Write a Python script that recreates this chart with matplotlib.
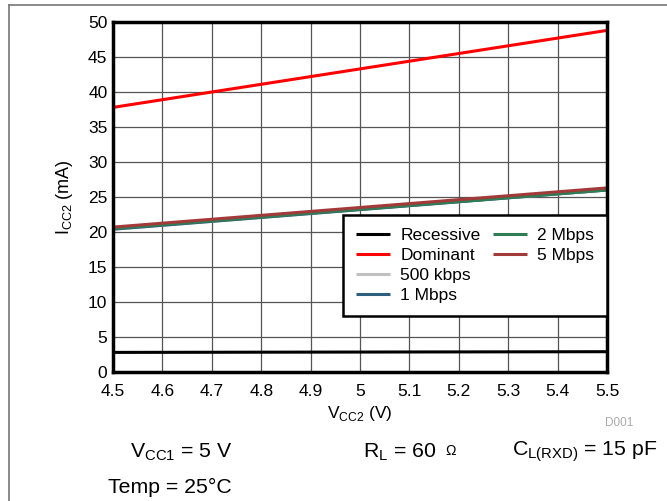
import numpy as np
import matplotlib
matplotlib.use('Agg')
import matplotlib.pyplot as plt
from matplotlib.lines import Line2D

plt.rcParams['font.family'] = ['Liberation Sans', 'DejaVu Sans']
plt.rcParams['mathtext.fontset'] = 'custom'
plt.rcParams['mathtext.rm'] = 'Liberation Sans'

# Data
vcc2 = [4.5, 5.5]
recessive = [2.8, 2.9]
dominant = [37.8, 48.8]
kbps_500 = [20.4, 26.0]
mbps_1 = [20.4, 26.0]
mbps_2 = [20.5, 26.0]
mbps_5 = [20.7, 26.3]

series = [
    ('Recessive', recessive, 'black'),
    ('Dominant', dominant, '#ff0000'),
    ('500 kbps', kbps_500, '#c0c0c0'),
    ('1 Mbps', mbps_1, '#2f5f7f'),
    ('2 Mbps', mbps_2, '#2e7d55'),
    ('5 Mbps', mbps_5, '#a33a3a'),
]

fig = plt.figure(figsize=(6.67, 5.01), dpi=100)
ax = fig.add_axes([113/667, 1 - 372/501, 494/667, 350/501])

for label, vals, col in series:
    ax.plot(vcc2, vals, color=col, lw=2.2, label=label, solid_capstyle='butt')

ax.set_xlim(4.5, 5.5)
ax.set_ylim(0, 50)
ax.set_xticks(np.arange(4.5, 5.51, 0.1))
ax.set_xticklabels(['4.5', '4.6', '4.7', '4.8', '4.9', '5', '5.1', '5.2', '5.3', '5.4', '5.5'])
ax.set_yticks(np.arange(0, 51, 5))
ax.tick_params(length=0, labelsize=12.5)
ax.tick_params(axis='x', pad=8.5)
ax.tick_params(axis='y', pad=4)
ax.grid(True, color='#555555', lw=0.9)
ax.set_axisbelow(True)
for s in ax.spines.values():
    s.set_linewidth(2.5)
    s.set_color('black')

ax.set_xlabel(r'V$_{\mathregular{CC2}}$ (V)', fontsize=12.5, labelpad=3.5)
ax.set_ylabel(r'I$_{\mathregular{CC2}}$ (mA)', fontsize=13, labelpad=9)

# pad the legend so the first column holds four entries, as in the reference
handles, labels = ax.get_legend_handles_labels()
blank = Line2D([], [], color='none')
handles = handles + [blank, blank]
labels = labels + ['', '']
leg = ax.legend(handles, labels, ncol=2, loc='upper right',
                bbox_to_anchor=(1.0, 0.449), borderaxespad=0,
                fontsize=12.5, fancybox=False, framealpha=1,
                edgecolor='black', handlelength=1.95, handletextpad=0.6,
                columnspacing=0.7, labelspacing=0.28, borderpad=0.75)
leg.get_frame().set_linewidth(1.8)

fig.text(633/667, 1 - 423/501, 'D001', color='#aaaaaa', fontsize=8.5,
         ha='right', va='center')
fig.text(130/667, 1 - 452/501, r'V$_{\mathregular{CC1}}$ = 5 V', fontsize=15.3, va='center')
fig.text(363/667, 1 - 452/501, r'R$_{\mathregular{L}}$ = 60', fontsize=15.3, va='center')
fig.text(445/667, 1 - 451/501, '\u03a9', fontsize=10, va='center')
fig.text(512/667, 1 - 452/501, r'C$_{\mathregular{L(RXD)}}$ = 15 pF', fontsize=15.3, va='center')
fig.text(108/667, 1 - 487/501, 'Temp = 25\u00b0C', fontsize=15.3, va='center')

# outer frame (left and top edges only visible)
fig.add_artist(Line2D([9/667, 9/667], [0, 1 - 5/501], transform=fig.transFigure,
                      color='#777777', lw=1.2))
fig.add_artist(Line2D([9/667, 1], [1 - 5/501, 1 - 5/501], transform=fig.transFigure,
                      color='#777777', lw=1.2))

fig.savefig('out.png', dpi=100)
